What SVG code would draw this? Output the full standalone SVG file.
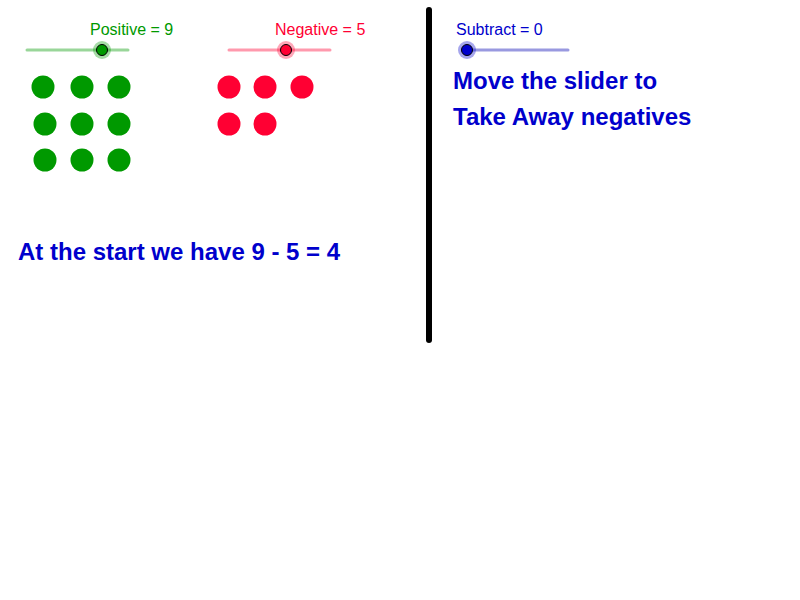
<svg xmlns="http://www.w3.org/2000/svg" width="800" height="600" viewBox="0 0 800 600">
<style>
.g{fill:#009900}.r{fill:#ff0033}
.lbl{font-family:"Liberation Sans",Arial,sans-serif;font-size:16px}
.big{font-family:"Liberation Sans",Arial,sans-serif;font-size:24px;font-weight:bold;fill:#0000cc}
</style>
<rect width="800" height="600" fill="#fff"/>
<g id="slider-positive">
<line x1="27" y1="50" x2="128" y2="50" stroke="#99d699" stroke-width="3" stroke-linecap="round"/>
<circle cx="102" cy="50" r="9" fill="#009900" opacity="0.35"/>
<circle cx="102" cy="50" r="5.5" fill="#009900" stroke="#000" stroke-width="1"/>
<text x="90" y="35" class="lbl" fill="#009900">Positive = 9</text>
</g>
<g id="slider-negative">
<line x1="229" y1="50" x2="330" y2="50" stroke="#ff99ad" stroke-width="3" stroke-linecap="round"/>
<circle cx="286" cy="50" r="9" fill="#ff0033" opacity="0.35"/>
<circle cx="286" cy="50" r="5.5" fill="#ff0033" stroke="#000" stroke-width="1"/>
<text x="275" y="35" class="lbl" fill="#ff0033">Negative = 5</text>
</g>
<g id="slider-subtract">
<line x1="467" y1="50" x2="568" y2="50" stroke="#9999e0" stroke-width="3" stroke-linecap="round"/>
<circle cx="467" cy="50" r="9" fill="#0000cc" opacity="0.35"/>
<circle cx="467" cy="50" r="5.5" fill="#0000cc" stroke="#000" stroke-width="1"/>
<text x="456" y="35" class="lbl" fill="#0000cc">Subtract = 0</text>
</g>
<g id="positives">
<circle class="g" cx="43" cy="87" r="11.5"/><circle class="g" cx="82" cy="87" r="11.5"/><circle class="g" cx="119" cy="87" r="11.5"/>
<circle class="g" cx="45" cy="124" r="11.5"/><circle class="g" cx="82" cy="124" r="11.5"/><circle class="g" cx="119" cy="124" r="11.5"/>
<circle class="g" cx="45" cy="160" r="11.5"/><circle class="g" cx="82" cy="160" r="11.5"/><circle class="g" cx="119" cy="160" r="11.5"/>
</g>
<g id="negatives">
<circle class="r" cx="229" cy="87" r="11.5"/><circle class="r" cx="265" cy="87" r="11.5"/><circle class="r" cx="302" cy="87" r="11.5"/>
<circle class="r" cx="229" cy="124" r="11.5"/><circle class="r" cx="265" cy="124" r="11.5"/>
</g>
<g id="divider"><line x1="429" y1="10" x2="429" y2="340" stroke="#000" stroke-width="6" stroke-linecap="round"/></g>
<text x="18" y="260" class="big">At the start we have 9 - 5 = 4</text>
<text x="453" y="89" class="big">Move the slider to</text>
<text x="453" y="125" class="big">Take Away negatives</text>
</svg>
